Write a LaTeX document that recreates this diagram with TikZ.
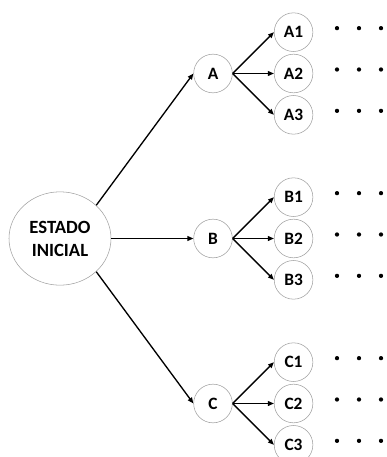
\documentclass[tikz,border=0pt]{standalone}
\usepackage{fontspec}
\setmainfont{Carlito}
\usetikzlibrary{shapes.geometric,arrows.meta}

\tikzset{
  estado/.style={draw=gray!75, ellipse, minimum width=76.5pt, minimum height=70pt,
    inner sep=0pt, align=center, font=\fontsize{14}{17.3}\selectfont\bfseries},
  opcion/.style={draw=gray!75, circle, minimum size=29pt, inner sep=0pt,
    font=\fontsize{13}{15}\selectfont\bfseries},
  flecha/.style={line width=1pt, -{Triangle[length=4.5pt,width=3.6pt]}}
}

\begin{document}
\begin{tikzpicture}[grow'=right,
  edge from parent/.style={draw=none},
  level 1/.style={level distance=114.75pt, sibling distance=123.75pt},
  level 2/.style={level distance=60.4pt, sibling distance=31pt}]
  \useasboundingbox (-45pt,-163.875pt) rectangle (244.5pt,178.875pt);

  \node[estado] (ini) {ESTADO\\INICIAL}
    child {node[opcion] (A) {A}
      child {node[opcion] (A1) {A1}}
      child {node[opcion] (A2) {A2}}
      child {node[opcion] (A3) {A3}}
    }
    child {node[opcion] (B) {B}
      child {node[opcion] (B1) {B1}}
      child {node[opcion] (B2) {B2}}
      child {node[opcion] (B3) {B3}}
    }
    child {node[opcion] (C) {C}
      child {node[opcion] (C1) {C1}}
      child {node[opcion] (C2) {C2}}
      child {node[opcion] (C3) {C3}}
    };

  \draw[flecha] (ini.north east) -- (A.west);
  \draw[flecha] (ini.east) -- (B.west);
  \draw[flecha] (ini.south east) -- (C.west);

  \draw[flecha] (A.east) -- (A1.west);
  \draw[flecha] (A.east) -- (A2.west);
  \draw[flecha] (A.east) -- (A3.west);
  \draw[flecha] (B.east) -- (B1.west);
  \draw[flecha] (B.east) -- (B2.west);
  \draw[flecha] (B.east) -- (B3.west);
  \draw[flecha] (C.east) -- (C1.west);
  \draw[flecha] (C.east) -- (C2.west);
  \draw[flecha] (C.east) -- (C3.west);

  \foreach \hoja in {A1,A2,A3,B1,B2,B3,C1,C2,C3}
    \foreach \dx in {32.6pt,49.1pt,65.6pt}
      \fill ([shift={(\dx,3pt)}]\hoja.center) circle (1.6pt);
\end{tikzpicture}
\end{document}
